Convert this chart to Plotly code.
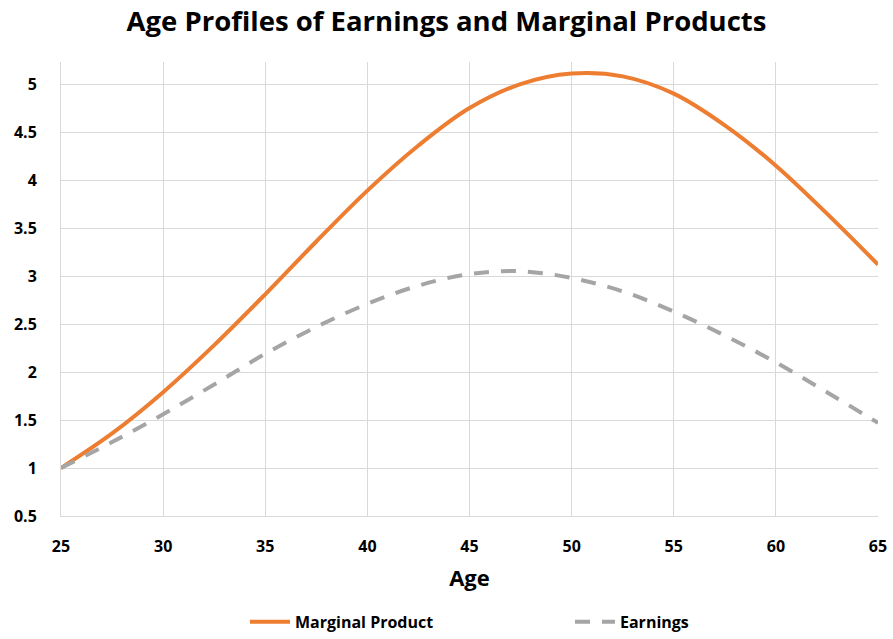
import plotly.graph_objects as go

ages = [25, 27.5, 30, 32.5, 35, 37.5, 40, 42.5, 45, 47.5, 50, 52.5, 55, 57.5, 60, 62.5, 65]
marginal_product = [1.00, 1.36, 1.79, 2.28, 2.81, 3.36, 3.89, 4.36, 4.75, 5.00, 5.11, 5.08, 4.90, 4.57, 4.15, 3.65, 3.12]
earnings = [1.00, 1.27, 1.56, 1.87, 2.19, 2.47, 2.71, 2.90, 3.02, 3.05, 2.98, 2.84, 2.63, 2.38, 2.10, 1.79, 1.47]

x_ticks = [25, 30, 35, 40, 45, 50, 55, 60, 65]
y_ticks = [0.5, 1, 1.5, 2, 2.5, 3, 3.5, 4, 4.5, 5]
y_labels = ["0.5", "1", "1.5", "2", "2.5", "3", "3.5", "4", "4.5", "5"]

FONT = "Open Sans"

fig = go.Figure()
fig.add_trace(go.Scatter(
    x=ages, y=marginal_product, mode="lines", name="<b>Marginal Product</b>",
    line=dict(color="#ED7D31", width=4, shape="spline", smoothing=1.0),
))
fig.add_trace(go.Scatter(
    x=ages, y=earnings, mode="lines", name="<b>Earnings</b>",
    line=dict(color="#A5A5A5", width=4, dash="15px,12px", shape="spline", smoothing=1.0),
))

fig.update_layout(
    width=893, height=639,
    margin=dict(l=61, r=15, t=62, b=123, autoexpand=False),
    paper_bgcolor="white", plot_bgcolor="white",
    font=dict(family=FONT, color="black"),
    title=dict(text="<b>Age Profiles of Earnings and Marginal Products</b>",
               x=0.5, xanchor="center", y=0.966, yanchor="middle",
               font=dict(size=27.5, family=FONT, color="black")),
    xaxis=dict(range=[25, 65], tickvals=x_ticks, ticktext=[f"<b>{v}</b>" for v in x_ticks],
               showgrid=True, gridcolor="#D9D9D9", gridwidth=1, automargin=False,
               showline=True, linecolor="#D9D9D9", linewidth=1, zeroline=False,
               ticks="", ticklabelstandoff=16, tickfont=dict(size=16, family=FONT),
               title=dict(text="<b>Age</b>", font=dict(size=22, family=FONT), standoff=14)),
    yaxis=dict(range=[0.5, 5.23], tickvals=y_ticks, ticktext=[f"<b>{v}</b>" for v in y_labels],
               showgrid=True, gridcolor="#D9D9D9", gridwidth=1, automargin=False,
               showline=True, linecolor="#D9D9D9", linewidth=1, zeroline=False,
               ticks="", ticklabelstandoff=20,
               tickfont=dict(size=16, family=FONT)),
    legend=dict(orientation="h", x=0.623, xanchor="center", yref="container", y=0.027, yanchor="middle",
                font=dict(size=16, family=FONT), entrywidth=270, entrywidthmode="pixels",
                itemwidth=40),
    showlegend=True,
)

fig.write_html("out.html", config={"displayModeBar": False},
               post_script="document.body.style.margin='0px';")
